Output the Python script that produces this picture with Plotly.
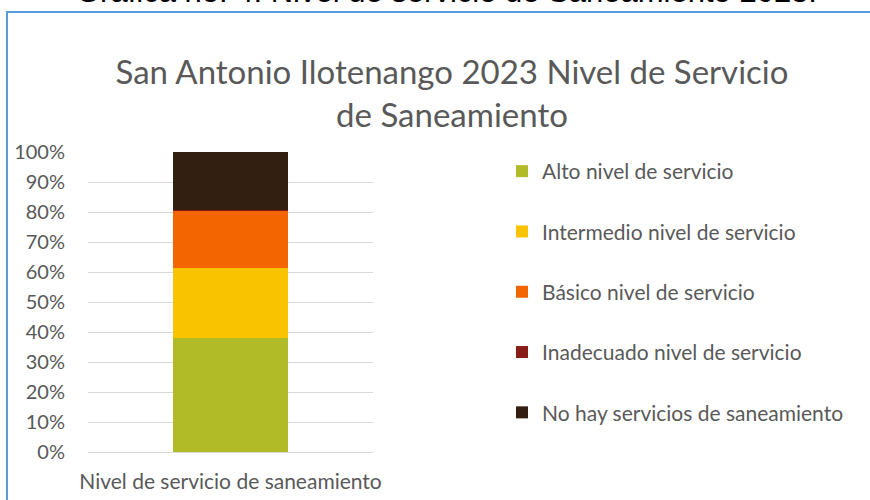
import plotly.graph_objects as go

# Data (share of households, %)
category = ["Nivel de servicio de saneamiento"]
levels = [
    "Alto nivel de servicio",
    "Intermedio nivel de servicio",
    "Básico nivel de servicio",
    "Inadecuado nivel de servicio",
    "No hay servicios de saneamiento",
]
shares = [38.0, 23.3, 19.2, 0.3, 19.2]
colors = ["#B1BB27", "#F9C300", "#F26500", "#8A1C17", "#321F12"]

W, H = 870, 500
L, R, T, B = 88, 497, 152, 48


def px_x(px):
    return (px - L) / (W - L - R)


def px_y(py):
    return 1 + (T - py) / (H - T - B)


grey = "#595959"
body_font = "Lato"

fig = go.Figure()
for name, val, col in zip(levels, shares, colors):
    fig.add_trace(
        go.Bar(
            x=category,
            y=[val / 100],
            name=name,
            marker=dict(color=col, line=dict(width=0)),
            legendgroup=name,
        )
    )

fig.update_layout(
    width=W,
    height=H,
    margin=dict(l=L, r=R, t=T, b=B, autoexpand=False),
    barmode="stack",
    bargap=0.596,
    paper_bgcolor="white",
    plot_bgcolor="white",
    font=dict(family=body_font, color=grey, size=20),
    title=dict(
        text="San Antonio Ilotenango 2023 Nivel de Servicio<br>de Saneamiento",
        x=452 / W,
        xanchor="center",
        xref="container",
        y=1 - 84 / H,
        yanchor="top",
        yref="container",
        font=dict(family=body_font, size=33, color=grey),
    ),
    legend=dict(
        x=px_x(502),
        xref="paper",
        y=px_y(151),
        yref="paper",
        yanchor="top",
        xanchor="left",
        traceorder="grouped",
        tracegroupgap=30,
        maxheight=400,
        font=dict(family=body_font, size=21, color=grey),
        bgcolor="rgba(0,0,0,0)",
        itemclick=False,
    ),
    xaxis=dict(
        showgrid=False,
        showline=False,
        ticks="",
        ticklabelstandoff=15,
        tickfont=dict(size=21, color=grey),
    ),
    yaxis=dict(
        range=[0, 1],
        dtick=0.1,
        tickformat=".0%",
        showgrid=True,
        gridcolor="#D9D9D9",
        gridwidth=1.2,
        zeroline=True,
        zerolinecolor="#D9D9D9",
        zerolinewidth=1.2,
        showline=False,
        ticks="",
        ticklabelstandoff=22,
        tickfont=dict(size=20, color=grey),
    ),
    showlegend=True,
)

# blue frame of the embedded chart (left and top edges)
frame = "#5B9BD5"
fig.add_shape(
    type="line", xref="paper", yref="paper",
    x0=px_x(7), x1=px_x(7), y0=px_y(12), y1=px_y(510),
    line=dict(color=frame, width=2),
)
fig.add_shape(
    type="line", xref="paper", yref="paper",
    x0=px_x(6), x1=px_x(880), y0=px_y(12), y1=px_y(12),
    line=dict(color=frame, width=2),
)

# caption of the document, cut off at the top of the picture
fig.add_annotation(
    text="Gráfica no. 4. Nivel de servicio de Saneamiento 2023.",
    xref="paper", yref="paper",
    x=px_x(446), y=px_y(-9),
    xanchor="center", yanchor="middle",
    showarrow=False,
    font=dict(family="Liberation Sans", size=31, color="black"),
)

# drop the page's default body margin so the figure sits at the window corner
fig.write_html(
    "out.html",
    config={"displayModeBar": False},
    post_script="document.body.style.margin='0';",
)
